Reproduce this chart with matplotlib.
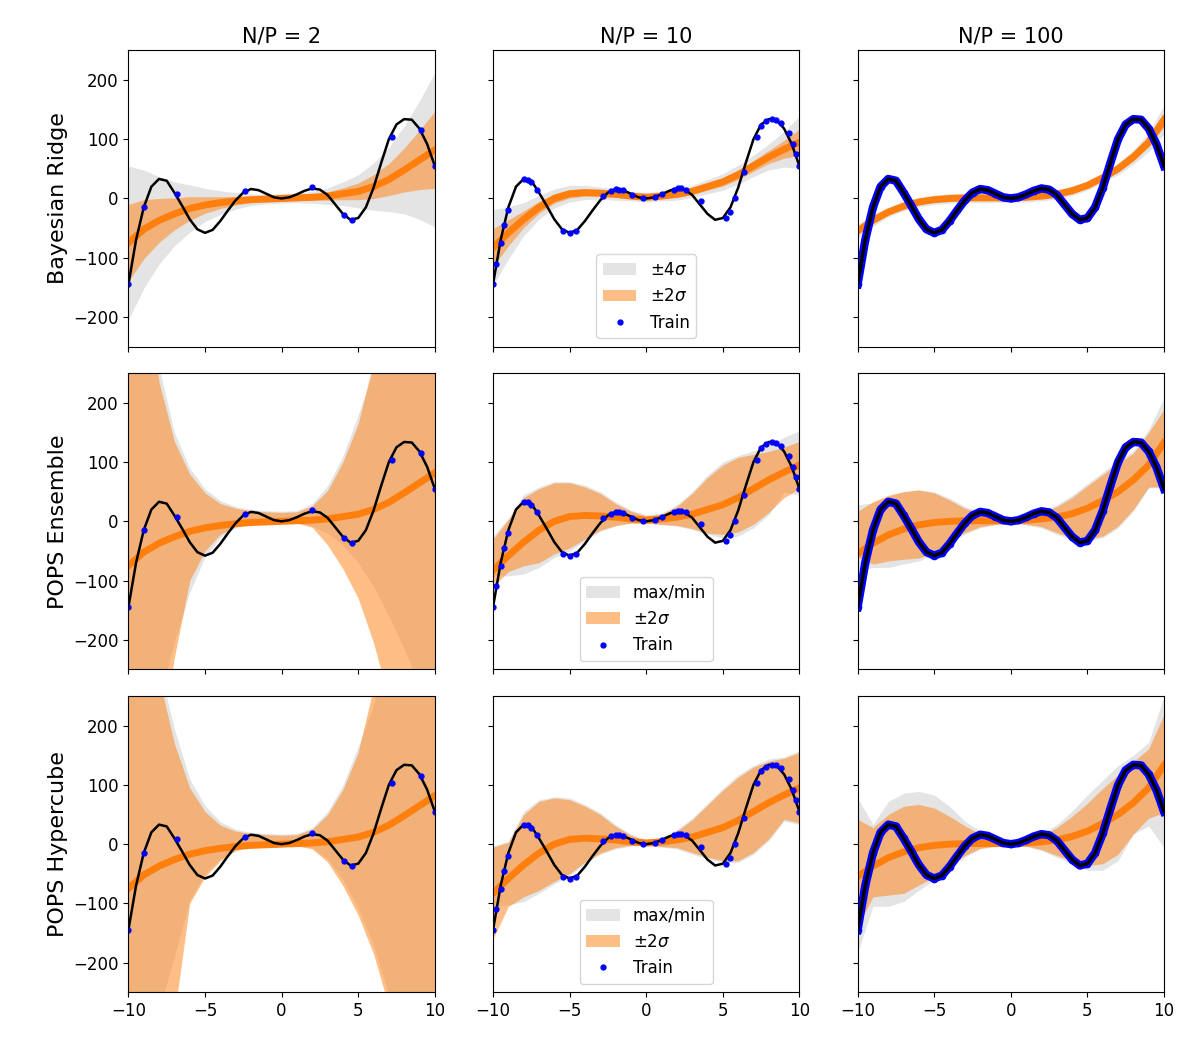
import numpy as np
import matplotlib.pyplot as plt

true_x = np.arange(-10, 10.01, 0.5)
true_y = [-145, -70, -15, 20, 33, 30, 10, -12, -35, -52, -58, -53, -38, -20, -3, 10, 16, 14, 8, 2, 0,
          2, 7, 13, 17, 15, 6, -10, -26, -36, -33, -15, 18, 60, 100, 125, 134, 133, 118, 92, 55]

gx = np.arange(-10, 11, 1)
mean_cols = [
    [-75, -52, -37, -26, -17, -11, -7, -4, -2, -1, 0, 1, 2, 4, 8, 12, 20, 32, 48, 65, 82],
    [-83, -58, -35, -15, 0, 8, 10, 9, 7, 4, 2, 4, 7, 12, 20, 28, 40, 55, 70, 83, 95],
    [-55, -37, -23, -13, -6, -2, 0, 1, 1, 1, 1, 2, 4, 7, 13, 22, 35, 50, 70, 95, 133],
]
# row 1: ±2σ half-widths; ±4σ = double
br_hw = [
    [65, 50, 37, 27, 20, 14, 10, 7, 5, 4, 4, 4, 5, 7, 10, 14, 20, 27, 37, 50, 65],
    [32, 22, 14, 10, 8, 7, 6, 5, 5, 4, 4, 4, 5, 5, 6, 7, 8, 9, 11, 15, 22],
    [6, 5, 4, 4, 4, 4, 4, 4, 4, 4, 4, 4, 4, 4, 4, 4, 4, 5, 6, 8, 12],
]
# POPS Ensemble band edges
ens_gray_hi = [
    [700, 450, 260, 150, 90, 55, 35, 25, 20, 18, 17, 18, 30, 60, 110, 180, 255, 350, 500, 700, 900],
    [-25, 5, 45, 58, 67, 67, 61, 50, 33, 19, 11, 14, 28, 50, 78, 100, 111, 119, 128, 142, 153],
    [28, 31, 42, 50, 53, 50, 39, 25, 17, 8, 6, 8, 17, 28, 44, 64, 83, 103, 119, 155, 208],
]
ens_gray_lo = [
    [-700, -500, -300, -205, -120, -60, -27, -11, -4, -3, -3, -3, -8, -20, -40, -70, -110, -160, -215, -280, -350],
    [-92, -92, -89, -78, -61, -50, -33, -17, -8, -3, -3, -6, -8, -14, -22, -28, -25, -11, 11, 50, 44],
    [-83, -78, -78, -72, -67, -56, -36, -22, -11, -6, -3, -6, -11, -22, -31, -33, -28, -11, 17, 56, 58],
]
ens_or_hi = [
    [650, 420, 235, 135, 80, 48, 30, 22, 18, 16, 15, 16, 26, 52, 100, 165, 270, 370, 500, 700, 900],
    [-30, 3, 40, 55, 65, 65, 58, 47, 30, 17, 9, 12, 25, 47, 74, 95, 108, 113, 118, 125, 135],
    [17, 33, 44, 50, 53, 48, 36, 22, 14, 6, 4, 6, 14, 25, 40, 60, 79, 98, 115, 150, 189],
]
ens_or_lo = [
    [-700, -550, -400, -230, -100, -50, -22, -9, -4, -3, -3, -3, -10, -40, -80, -130, -205, -300, -450, -600, -800],
    [-110, -85, -75, -70, -55, -45, -30, -15, -7, -3, -3, -5, -7, -12, -20, -22, -18, -5, 15, 40, 55],
    [-61, -72, -67, -64, -62, -53, -33, -19, -9, -5, -2, -5, -9, -19, -28, -30, -25, -8, 20, 58, 58],
]
# POPS Hypercube band edges
hc_gray_hi = [
    [600, 400, 300, 195, 110, 65, 38, 25, 20, 18, 17, 18, 28, 55, 100, 165, 235, 330, 450, 600, 800],
    [-3, 5, 55, 75, 80, 78, 67, 53, 33, 17, 8, 11, 25, 44, 69, 94, 117, 133, 144, 147, 158],
    [78, 33, 72, 86, 89, 83, 64, 39, 22, 11, 6, 8, 17, 33, 56, 83, 108, 133, 150, 172, 250],
]
hc_gray_lo = [
    [-600, -450, -280, -190, -95, -50, -25, -10, -4, -3, -3, -3, -6, -25, -60, -108, -170, -255, -400, -550, -700],
    [-105, -103, -97, -83, -67, -53, -33, -17, -8, -3, -3, -5, -8, -17, -25, -31, -31, -17, 6, 39, 33],
    [-183, -105, -105, -97, -78, -61, -42, -22, -8, -4, -3, -4, -11, -22, -33, -44, -44, -28, 17, 31, -6],
]
hc_or_hi = [
    [550, 380, 280, 170, 95, 55, 32, 22, 18, 16, 15, 16, 25, 50, 92, 155, 265, 360, 480, 620, 800],
    [-5, 3, 50, 72, 78, 75, 64, 50, 30, 15, 6, 9, 22, 41, 66, 91, 113, 130, 140, 145, 155],
    [42, 28, 50, 64, 67, 61, 47, 31, 17, 9, 5, 7, 14, 28, 47, 69, 94, 117, 139, 161, 219],
]
hc_or_lo = [
    [-600, -450, -350, -290, -100, -55, -28, -11, -4, -3, -3, -3, -8, -30, -70, -120, -185, -275, -400, -550, -700],
    [-160, -105, -89, -78, -63, -50, -30, -15, -6, -2, -2, -4, -6, -14, -22, -28, -28, -14, 9, 42, 36],
    [-139, -89, -86, -83, -69, -56, -36, -19, -7, -3, -2, -3, -9, -19, -28, -36, -33, -17, 17, 44, 53],
]

train_x2 = [-10, -9, -6.8, -2.4, 2.0, 4.1, 4.6, 7.2, 9.1, 10]
train_y2 = [-145, -15, 8, 12, 19, -28, -37, 104, 115, 55]
train_x10 = [-10, -9.8, -9.5, -9.3, -9.0, -8.0, -7.7, -7.5, -7.1, -5.4, -5.0, -4.6, -2.8, -2.3, -2.0,
             -1.8, -1.5, -0.9, -0.2, 0.6, 1.0, 1.8, 2.1, 2.3, 2.6, 3.6, 5.2, 5.5, 5.8, 6.4, 7.2, 7.5,
             7.8, 8.2, 8.5, 8.8, 9.3, 9.6, 9.8, 10]
train_y10 = [-145, -110, -75, -45, -20, 33, 32, 28, 15, -55, -58, -55, 5, 13, 16, 15, 14, 6, 1, 2,
             7, 15, 17, 17, 15, -5, -33, -23, 0, 45, 104, 123, 131, 134, 133, 128, 110, 92, 75, 55]

titles = ["N/P = 2", "N/P = 10", "N/P = 100"]
rows = ["Bayesian Ridge", "POPS Ensemble", "POPS Hypercube"]

fig, axes = plt.subplots(3, 3, figsize=(12, 10.5), dpi=100, sharex=True, sharey=True)
GRAY = "#d9d9d9"
OR = "#ff7f0e"
for r in range(3):
    for c in range(3):
        ax = axes[r, c]
        m = np.array(mean_cols[c])
        if r == 0:
            hw = np.array(br_hw[c])
            ax.fill_between(gx, m - 2 * hw, m + 2 * hw, color=GRAY, alpha=0.7, lw=0, label=r"$\pm4\sigma$")
            ax.fill_between(gx, m - hw, m + hw, color=OR, alpha=0.5, lw=0, label=r"$\pm2\sigma$")
        else:
            gh, gl, oh, ol = ((ens_gray_hi, ens_gray_lo, ens_or_hi, ens_or_lo) if r == 1
                              else (hc_gray_hi, hc_gray_lo, hc_or_hi, hc_or_lo))
            ax.fill_between(gx, gl[c], gh[c], color=GRAY, alpha=0.7, lw=0, label="max/min")
            ax.fill_between(gx, ol[c], oh[c], color=OR, alpha=0.5, lw=0, label=r"$\pm2\sigma$")
        ax.plot(gx, m, color=OR, lw=5)
        if c == 0:
            ax.plot(true_x, true_y, color="black", lw=1.8)
            ax.plot(train_x2, train_y2, ".", color="blue", ms=7, label="Train")
        elif c == 1:
            ax.plot(true_x, true_y, color="black", lw=1.8)
            ax.plot(train_x10, train_y10, ".", color="blue", ms=7, label="Train")
        else:
            ax.plot(true_x, true_y, color="blue", lw=6)
            ax.plot(true_x, true_y, ".", color="blue", ms=9, label="Train")
            ax.plot(true_x, true_y, color="black", lw=2.5)
        ax.set_xlim(-10, 10)
        ax.set_ylim(-250, 250)
        ax.set_xticks([-10, -5, 0, 5, 10])
        ax.set_yticks([-200, -100, 0, 100, 200])
        ax.tick_params(labelsize=12)
        if r == 0:
            ax.set_title(titles[c], fontsize=15)
        if c == 0:
            ax.set_ylabel(rows[r], fontsize=16)
        if c == 1:
            ax.legend(loc="lower center", fontsize=12)
fig.subplots_adjust(left=0.107, right=0.97, top=0.952, bottom=0.055, wspace=0.19, hspace=0.09)
fig.savefig("out.png")
